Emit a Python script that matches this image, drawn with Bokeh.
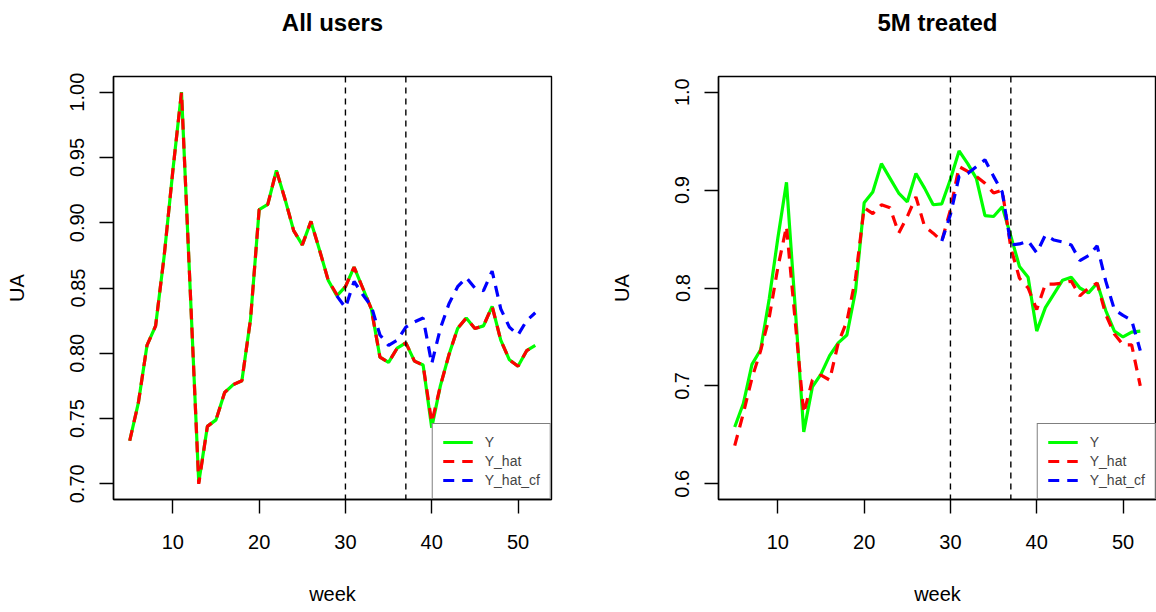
from bokeh.plotting import figure
from bokeh.models import (Range1d, FixedTicker, PrintfTickFormatter, Span,
                          Legend, LegendItem, ColumnDataSource, Title)
from bokeh.layouts import row
from bokeh.embed import file_html
from bokeh.resources import INLINE

weeks = list(range(5, 53))
cf_weeks = list(range(29, 53))
events = [30, 37]

all_y = [0.733, 0.762, 0.806, 0.821, 0.875, 0.940, 1.000, 0.850, 0.701, 0.744,
         0.749, 0.770, 0.776, 0.779, 0.826, 0.910, 0.914, 0.940, 0.918, 0.894,
         0.883, 0.901, 0.879, 0.856, 0.844, 0.851, 0.866, 0.850, 0.834, 0.797,
         0.793, 0.804, 0.808, 0.794, 0.791, 0.743, 0.775, 0.799, 0.819, 0.827,
         0.819, 0.821, 0.836, 0.810, 0.795, 0.790, 0.802, 0.806]
all_yhat = [0.733, 0.762, 0.806, 0.821, 0.875, 0.940, 1.000, 0.850, 0.700, 0.744,
            0.749, 0.770, 0.776, 0.779, 0.826, 0.910, 0.914, 0.940, 0.918, 0.894,
            0.883, 0.901, 0.879, 0.856, 0.845, 0.851, 0.866, 0.850, 0.834, 0.797,
            0.793, 0.804, 0.808, 0.794, 0.791, 0.747, 0.775, 0.799, 0.819, 0.827,
            0.819, 0.821, 0.836, 0.810, 0.795, 0.790, 0.802, 0.806]
all_cf = [0.844, 0.835, 0.855, 0.845, 0.836, 0.814, 0.806, 0.810, 0.820, 0.824,
          0.827, 0.792, 0.819, 0.838, 0.851, 0.858, 0.850, 0.848, 0.863, 0.834,
          0.820, 0.814, 0.825, 0.831]

tr_y = [0.658, 0.682, 0.722, 0.737, 0.789, 0.851, 0.908, 0.781, 0.653, 0.699,
        0.712, 0.731, 0.744, 0.752, 0.797, 0.887, 0.898, 0.927, 0.912, 0.897,
        0.888, 0.917, 0.902, 0.885, 0.886, 0.911, 0.940, 0.927, 0.912, 0.874,
        0.873, 0.883, 0.853, 0.822, 0.811, 0.756, 0.780, 0.794, 0.808, 0.811,
        0.800, 0.795, 0.805, 0.777, 0.756, 0.750, 0.755, 0.756]
tr_yhat = [0.639, 0.672, 0.708, 0.736, 0.770, 0.821, 0.863, 0.767, 0.672, 0.706,
           0.711, 0.706, 0.744, 0.766, 0.810, 0.882, 0.876, 0.885, 0.882, 0.856,
           0.873, 0.893, 0.863, 0.856, 0.848, 0.880, 0.924, 0.919, 0.914, 0.907,
           0.897, 0.900, 0.841, 0.810, 0.800, 0.778, 0.804, 0.804, 0.805, 0.807,
           0.792, 0.800, 0.805, 0.773, 0.753, 0.742, 0.742, 0.700]
tr_cf = [0.848, 0.875, 0.914, 0.917, 0.924, 0.931, 0.914, 0.898, 0.844, 0.845,
         0.848, 0.836, 0.854, 0.849, 0.847, 0.844, 0.828, 0.833, 0.843, 0.807,
         0.778, 0.772, 0.767, 0.736]

x_ticks = [10, 20, 30, 40, 50]
all_ticks = [0.70, 0.75, 0.80, 0.85, 0.90, 0.95, 1.00]
tr_ticks = [0.6, 0.7, 0.8, 0.9, 1.0]

FONT = "Liberation Sans"


def make_panel(title, y, yhat, cf, ylo, yhi, yticks, fmt, width, mbl, mbr):
    p = figure(width=width, height=612, x_range=Range1d(3.12, 53.88),
               y_range=Range1d(ylo, yhi), output_backend="svg",
               toolbar_location=None, min_border_left=mbl, min_border_right=mbr,
               min_border_top=75, min_border_bottom=113)
    # spacer between the frame and the title
    p.add_layout(Title(text=" ", text_font_size="1px", standoff=28), "above")
    p.title.text = title
    p.title.align = "center"
    p.title.vertical_align = "top"
    p.title.text_font = FONT
    p.title.text_font_size = "24px"
    p.title.text_font_style = "bold"
    p.title.text_color = "black"
    p.title.standoff = 16
    p.grid.visible = False
    p.outline_line_color = "black"
    p.outline_line_width = 1.4
    p.background_fill_color = "white"
    p.border_fill_color = "white"

    for ax in (p.xaxis[0], p.yaxis[0]):
        ax.axis_line_color = "black"
        ax.axis_line_width = 1.4
        ax.major_tick_line_color = "black"
        ax.major_tick_line_width = 1.4
        ax.major_tick_out = 14
        ax.major_tick_in = 0
        ax.minor_tick_line_color = None
        ax.major_label_text_font = FONT
        ax.major_label_text_font_size = "20px"
        ax.major_label_text_color = "black"
        ax.axis_label_text_font = FONT
        ax.axis_label_text_font_size = "20px"
        ax.axis_label_text_font_style = "normal"
        ax.axis_label_text_color = "black"

    p.xaxis[0].ticker = FixedTicker(ticks=x_ticks)
    p.xaxis[0].axis_label = "week"
    p.xaxis[0].major_label_standoff = 21
    p.xaxis[0].axis_label_standoff = 31

    p.yaxis[0].ticker = FixedTicker(ticks=yticks)
    p.yaxis[0].formatter = PrintfTickFormatter(format=fmt)
    p.yaxis[0].major_label_orientation = "vertical"
    p.yaxis[0].axis_label = "UA"
    p.yaxis[0].major_label_standoff = 15
    p.yaxis[0].axis_label_standoff = 40

    src = ColumnDataSource(dict(week=weeks, y=y, yhat=yhat))
    csrc = ColumnDataSource(dict(week=cf_weeks, cf=cf))
    r1 = p.line("week", "y", source=src, line_color="#00FF00", line_width=3.2)
    r2 = p.line("week", "yhat", source=src, line_color="#FF0000", line_width=3.2,
                line_dash="11 8")
    r3 = p.line("week", "cf", source=csrc, line_color="#0000FF", line_width=3.2,
                line_dash="11 8")

    for e in events:
        p.add_layout(Span(location=e, dimension="height", line_color="black",
                          line_width=1.4, line_dash="6 5"))

    legend = Legend(items=[LegendItem(label="Y", renderers=[r1]),
                           LegendItem(label="Y_hat", renderers=[r2]),
                           LegendItem(label="Y_hat_cf", renderers=[r3])],
                    location="bottom_right", margin=0, padding=10, spacing=3,
                    glyph_width=30, glyph_height=16, label_height=16,
                    label_standoff=12, label_text_font=FONT,
                    label_text_font_size="14px", border_line_color="black",
                    border_line_width=1.4, background_fill_color="white",
                    background_fill_alpha=1.0)
    p.add_layout(legend)
    return p


p1 = make_panel("All users", all_y, all_yhat, all_cf, 0.688, 1.012, all_ticks,
                "%.2f", 605, 113, 54)
p2 = make_panel("5M treated", tr_y, tr_yhat, tr_cf, 0.584, 1.016, tr_ticks,
                "%.1f", 551, 113, 0)

layout = row(p1, p2, spacing=0)
open("out.html", "w").write(file_html(layout, INLINE))
